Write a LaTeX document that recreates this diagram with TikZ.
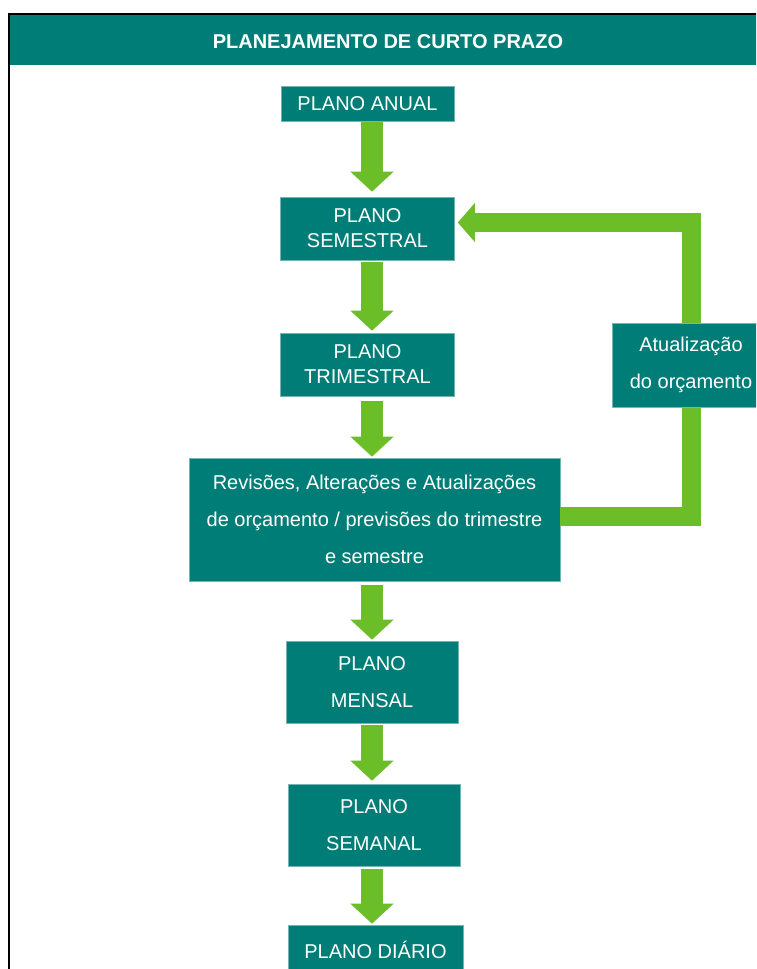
\documentclass[tikz,border=0pt]{standalone}
\usepackage{fontspec}
\setmainfont{Liberation Sans}
\usetikzlibrary{arrows.meta}
\definecolor{tealc}{RGB}{0,125,118}
\definecolor{grn}{RGB}{108,190,40}
\begin{document}
\begin{tikzpicture}[x=1pt,y=-1pt,
  box/.style={fill=tealc, draw=tealc!55!white, line width=0.6pt, text=white, align=center, inner sep=0pt},
  tight/.style={font=\fontsize{20}{25}\selectfont},
  loose/.style={font=\fontsize{20}{37}\selectfont},
  bigarrow/.style={draw=grn, line width=22pt, line cap=butt, -{Triangle[length=20pt 0 0,width=42pt 0 0]}},
  loop/.style={draw=grn, line width=19pt, line join=miter, line cap=butt, -{Triangle[length=17pt 0 0,width=38pt 0 0]}}]
\useasboundingbox (0,0) rectangle (756,969);
\clip (0,0) rectangle (756,969);
\fill[white] (0,0) rectangle (756,969);
% frame and header
\fill[tealc] (9,15) rectangle (770,65);
\draw[black, line width=2pt] (9,14) rectangle (770,1000);
\node[text=white, font=\fontsize{20}{24}\selectfont\bfseries] (title) at (388,42) {PLANEJAMENTO DE CURTO PRAZO};
% boxes
\node[box, tight, minimum width=173, minimum height=35] (anual) at (367.5,103.5) {PLANO ANUAL};
\node[box, tight, minimum width=174, minimum height=63] (sem) at (367.5,228.5) {PLANO\\SEMESTRAL};
\node[box, tight, minimum width=174, minimum height=63] (tri) at (367.5,364.5) {PLANO\\TRIMESTRAL};
\node[box, loose, minimum width=371, minimum height=123] (rev) at (374.5,519.5) {Revisões, Alterações e Atualizações\\de orçamento / previsões do trimestre\\e semestre};
\node[box, loose, minimum width=172, minimum height=82] (men) at (372,682) {PLANO\\MENSAL};
\node[box, loose, minimum width=172, minimum height=82] (seman) at (374,825) {PLANO\\SEMANAL};
\node[box, tight, minimum width=175, minimum height=50] (dia) at (375.5,950) {PLANO DIÁRIO};
% arrow axis
\coordinate (ax) at (372,0);
\coordinate (lx) at (691,0);
\coordinate (ly1) at (0,516);
\coordinate (ly2) at (0,222.5);
\draw[bigarrow, shorten <=1pt, shorten >=5pt] (anual.south -| ax) -- (sem.north -| ax);
\draw[bigarrow, shorten <=2pt, shorten >=2pt] (sem.south -| ax) -- (tri.north -| ax);
\draw[bigarrow, shorten <=5pt, shorten >=1pt] (tri.south -| ax) -- (rev.north -| ax);
\draw[bigarrow, shorten <=4pt, shorten >=1pt] (rev.south -| ax) -- (men.north -| ax);
\draw[bigarrow, shorten <=2pt, shorten >=3pt] (men.south -| ax) -- (seman.north -| ax);
\draw[bigarrow, shorten <=3pt, shorten >=1pt] (seman.south -| ax) -- (dia.north -| ax);
% feedback loop
\draw[loop, shorten >=3pt] (rev.east |- ly1) -- (lx |- ly1) -- (lx |- ly2) -- (sem.east |- ly2);
\node[box, loose, minimum width=158, minimum height=84] (atu) at (691,365) {Atualização\\do orçamento};
\end{tikzpicture}
\end{document}
